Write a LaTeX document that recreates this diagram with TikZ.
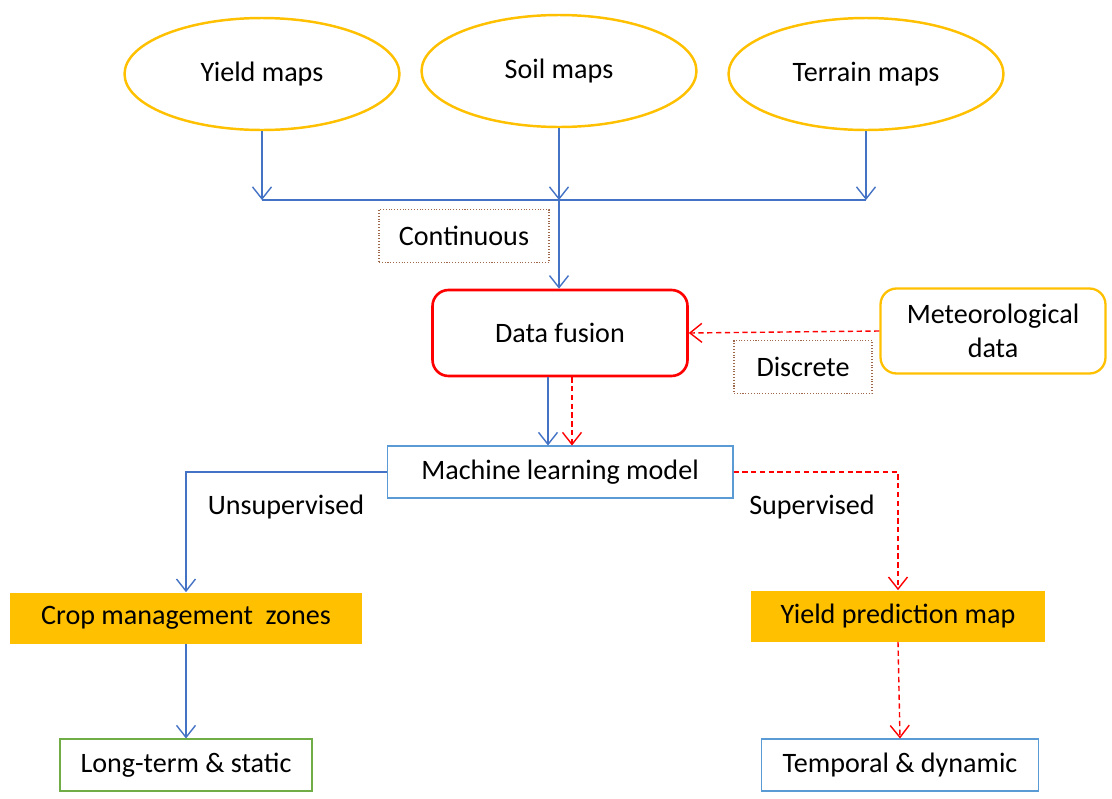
\documentclass[tikz,border=0pt]{standalone}
\usepackage{fontspec}
\setmainfont{Carlito}
\usetikzlibrary{arrows.meta,calc,shapes.geometric}

\definecolor{lineblue}{HTML}{4472C4}
\definecolor{boxblue}{HTML}{5B9BD5}
\definecolor{mapyellow}{HTML}{FFC000}
\definecolor{labelbrown}{HTML}{A0684A}
\definecolor{zonegreen}{HTML}{70AD47}

\tikzset{
  mapnode/.style   = {ellipse, draw=mapyellow, line width=1.4pt, minimum width=5.5cm, minimum height=2.24cm},
  tagbox/.style    = {draw=labelbrown, densely dotted, line width=0.6pt, minimum height=1.06cm},
  fusionbox/.style = {draw=red, rounded corners=0.32cm, line width=1.5pt, minimum width=5.1cm, minimum height=1.72cm},
  metbox/.style    = {draw=mapyellow, rounded corners=0.32cm, line width=1.3pt, minimum width=4.5cm, minimum height=1.7cm, align=center},
  plainbox/.style  = {draw=#1, line width=0.6pt, minimum height=1.04cm},
  outbox/.style    = {fill=mapyellow, minimum height=1.02cm},
  blueline/.style  = {draw=lineblue, line width=0.8pt},
  redline/.style   = {draw=red, line width=0.8pt, densely dashed},
}

\begin{document}
\begin{tikzpicture}[x=0.02cm, y=-0.02cm, font=\fontsize{16}{19}\selectfont,
    >={Straight Barb[length=0.24cm, width=0.38cm]}]
    \useasboundingbox (0,0) rectangle (1112,798);

    \node[mapnode] (yield)   at (262,74)  {Yield maps};
    \node[mapnode] (soil)    at (559,71)  {Soil maps};
    \node[mapnode] (terrain) at (866,74)  {Terrain maps};

    \coordinate (busl) at (262,200);
    \coordinate (busm) at (559,200);
    \coordinate (busr) at (866,200);

    \node[tagbox, minimum width=3.4cm]  (cont)   at (464,236) {Continuous};
    \node[fusionbox] (fusion) at (560,333) {Data fusion};
    \node[metbox]    (met)    at (993,331) {Meteorological\\data};
    \node[tagbox, minimum width=2.76cm] (disc)   at (803,367) {Discrete};

    \node[plainbox=boxblue, minimum width=6.92cm] (ml) at (560,472) {Machine learning model};
    \node (unsup) at (286,507) {Unsupervised};
    \node (sup)   at (812,507) {Supervised};

    \node[outbox, minimum width=7.04cm] (crop)  at (186,618) {Crop management\ \ zones};
    \node[outbox, minimum width=5.9cm]  (ypred) at (898,616) {Yield prediction map};

    \node[plainbox=zonegreen, minimum width=5.04cm] (longterm) at (186,765) {Long-term \& static};
    \node[plainbox=boxblue, minimum width=5.54cm]   (temporal) at (900,765) {Temporal \& dynamic};

    \draw[blueline, ->] (yield.south) -- (busl);
    \draw[blueline, ->] (soil.south) -- (busm);
    \draw[blueline, ->] (terrain.south) -- (busr);
    \draw[blueline] (busl) -- (busr);
    \draw[blueline, ->] (busm) -- (busm |- fusion.north);

    \draw[redline, ->] (met.west) -- (fusion.east);

    \draw[blueline, ->] ($(fusion.south) + (-12,0)$) -- ($(ml.north) + (-12,0)$);
    \draw[redline, ->] ($(fusion.south) + (12,0)$) -- ($(ml.north) + (12,0)$);

    \draw[blueline, ->] (ml.west) -| (crop.north);
    \draw[redline, ->] (ml.east) -| (ypred.north);

    \draw[blueline, ->] (crop.south) -- (longterm.north);
    \draw[redline, ->] (ypred.south) -- (temporal.north);

\end{tikzpicture}
\end{document}
